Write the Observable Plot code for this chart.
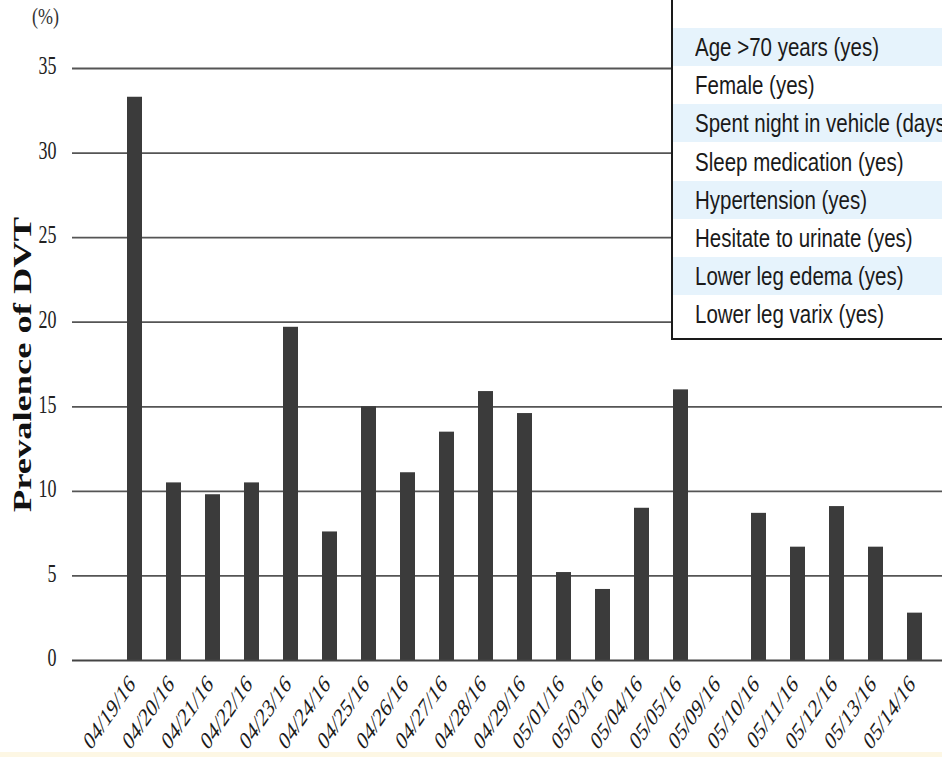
<!DOCTYPE html>
<html>
<head>
<meta charset="utf-8">
<script src="https://cdn.jsdelivr.net/npm/d3@7"></script>
<script src="https://cdn.jsdelivr.net/npm/@observablehq/plot@0.6"></script>
<style>
  html, body { margin: 0; padding: 0; background: #fdf7e4; }
  #wrap { position: relative; width: 942px; height: 757px; overflow: hidden; background: #fdf7e4; }
  #chart svg { display: block; }
  #unit { position: absolute; left: 32px; top: 4px; font: 18px "Liberation Serif", serif; color: #333; transform: scaleY(1.25); transform-origin: left top; }
  #legend { position: absolute; left: 671px; top: -10px; width: 420px; height: 350px; border: 2px solid #1a1a1a; background: #fff; box-sizing: border-box; }
  .row { position: absolute; left: 0; right: 0; height: 38px; display: flex; align-items: center; padding-left: 22px; box-sizing: border-box; }
  .row span { display: inline-block; font: 20.5px "Liberation Sans", Arial, sans-serif; color: #1a1a1a; white-space: nowrap; transform: scaleY(1.25); transform-origin: left center; }
  .row.alt { background: #e6f3fc; }
</style>
</head>
<body>
<div id="wrap">
  <div id="chart"></div>
  <div id="unit"></div>
  <div id="legend"></div>
</div>
<script>
// ---- data ----
const dates = ["04/19/16","04/20/16","04/21/16","04/22/16","04/23/16","04/24/16","04/25/16","04/26/16","04/27/16","04/28/16","04/29/16","05/01/16","05/03/16","05/04/16","05/05/16","05/09/16","05/10/16","05/11/16","05/12/16","05/13/16","05/14/16"];
const prevalence = [33.3, 10.5, 9.8, 10.5, 19.7, 7.6, 15.0, 11.1, 13.5, 15.9, 14.6, 5.2, 4.2, 9.0, 16.0, 0, 8.7, 6.7, 9.1, 6.7, 2.8];
const yTicks = [0, 5, 10, 15, 20, 25, 30, 35];
const yLabel = "Prevalence of DVT";
const unitLabel = "(%)";
const legendRows = ["Age >70 years (yes)", "Female (yes)", "Spent night in vehicle (days)", "Sleep medication (yes)", "Hypertension (yes)", "Hesitate to urinate (yes)", "Lower leg edema (yes)", "Lower leg varix (yes)"];

const data = dates.map((d, i) => ({date: d, value: prevalence[i]}));
const serif = "'Liberation Serif', 'Times New Roman', serif";

const chart = Plot.plot({
  width: 942,
  height: 752,
  marginLeft: 72,
  marginRight: 0,
  marginTop: 68,
  marginBottom: 92,
  style: {background: "#fff", fontFamily: serif, fontSize: "18px", color: "#222", overflow: "visible"},
  x: {domain: dates, range: [110.8, 938.2], paddingInner: 0.61, paddingOuter: 0.305, axis: null},
  y: {domain: [0, 35], axis: null},
  marks: [
    Plot.ruleY(yTicks.filter(t => t > 0), {stroke: "#555", strokeWidth: 1.8}),
    Plot.barY(data, {x: "date", y: "value", fill: "#3b3b3b"}),
    Plot.ruleY([0], {stroke: "#444", strokeWidth: 2}),
    // y tick labels (through the y scale)
    Plot.text(yTicks, {y: d => d, text: d => String(d), frameAnchor: "left", dx: -16, textAnchor: "end", fontSize: 18, fontFamily: serif, fill: "#222", ariaDescription: "ytick"}),
    // x tick labels (through the x scale)
    Plot.text(dates, {x: d => d, text: d => d, frameAnchor: "bottom", dx: -3, dy: 21, rotate: -45, textAnchor: "end", lineAnchor: "middle", fontSize: 18, fontFamily: serif, fill: "#1a1a1a", ariaDescription: "xtick"}),
    Plot.text([yLabel], {text: d => d, frameAnchor: "left", dx: -42, rotate: -90, textAnchor: "middle", lineAnchor: "bottom", fontSize: 26, fontWeight: "bold", fontFamily: serif, fill: "#111", ariaDescription: "ylabel"})
  ]
});
document.getElementById("chart").appendChild(chart);

// stretch glyphs vertically (the source picture is vertically scaled) around each text's anchor
function stretchText(el, sy) {
  const tl = el.transform.baseVal.consolidate();
  const mat = tl ? tl.matrix : chart.createSVGMatrix();
  const x0 = el.x.baseVal.length ? el.x.baseVal[0].value : 0;
  const y0 = el.y.baseVal.length ? el.y.baseVal[0].value : 0;
  const ax = mat.a * x0 + mat.c * y0 + mat.e;
  const ay = mat.b * x0 + mat.d * y0 + mat.f;
  const g = document.createElementNS("http://www.w3.org/2000/svg", "g");
  g.setAttribute("transform", `translate(${ax},${ay}) scale(1,${sy}) translate(${-ax},${-ay})`);
  el.parentNode.insertBefore(g, el);
  g.appendChild(el);
}
let textGroups = [...chart.querySelectorAll("g")].filter(g => [...g.children].some(c => c.tagName === "text"));
const byDesc = d => chart.querySelector(`g[aria-description="${d}"]`);
const gY = byDesc("ytick") || textGroups[0];
const gX = byDesc("xtick") || textGroups[1];
const gL = byDesc("ylabel") || textGroups[2];
[...gY.querySelectorAll("text"), ...gX.querySelectorAll("text")].forEach(el => stretchText(el, 1.45));
gL.querySelectorAll("text").forEach(el => {
  el.setAttribute("textLength", "295");
  el.setAttribute("lengthAdjust", "spacingAndGlyphs");
});

document.getElementById("unit").textContent = unitLabel;
const legend = document.getElementById("legend");
legendRows.forEach((r, i) => {
  const div = document.createElement("div");
  div.className = "row" + (i % 2 === 0 ? " alt" : "");
  div.style.top = (36 + i * 38.2) + "px";
  const s = document.createElement("span");
  s.textContent = r;
  div.appendChild(s);
  legend.appendChild(div);
});
</script>
</body>
</html>
